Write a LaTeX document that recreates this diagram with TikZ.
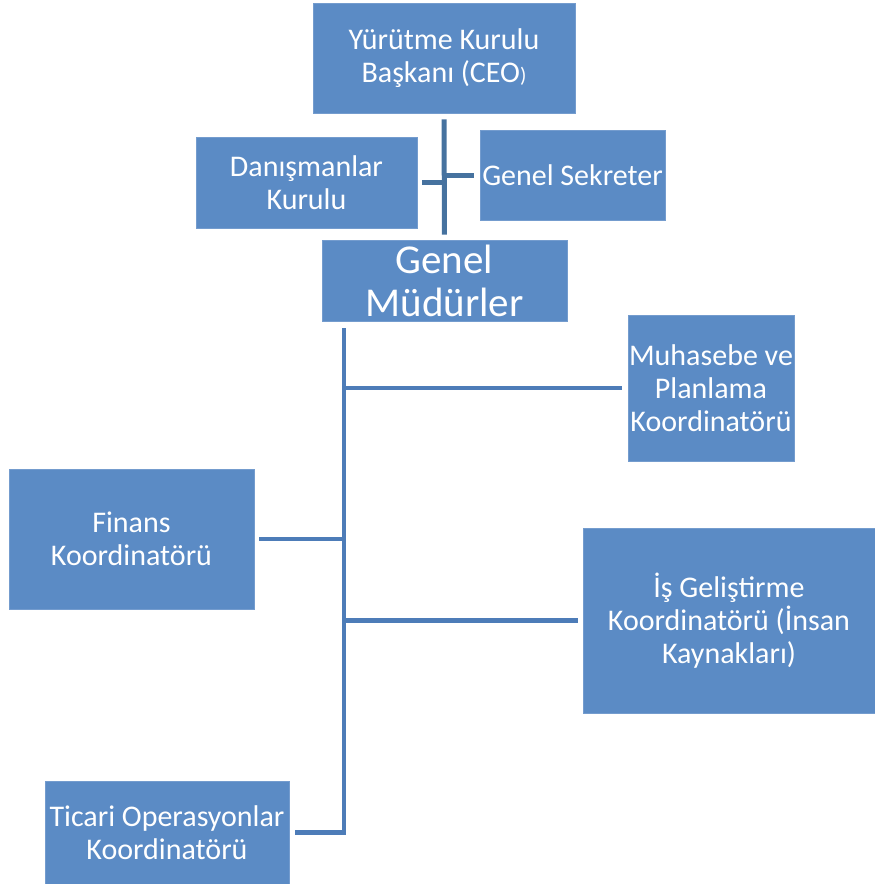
\documentclass[tikz,border=0pt]{standalone}
\usepackage{fontspec}
\setmainfont{Carlito}
\definecolor{boxblue}{HTML}{5B8BC5}
\definecolor{linkblue}{HTML}{4D7CB8}
\definecolor{toplink}{HTML}{46729F}
\begin{document}
\begin{tikzpicture}[x=1pt,y=-1pt,
  box/.style={rectangle, fill=boxblue, draw=boxblue!85!white, line width=0.6pt,
    text=white, align=center, inner sep=0pt,
    font=\fontsize{30pt}{33pt}\selectfont},
  bigbox/.style={box, font=\fontsize{41pt}{43pt}\selectfont},
  link/.style={draw=linkblue, line width=4.5pt},
  toplinkstyle/.style={draw=toplink, line width=5pt}]
\useasboundingbox (0,0) rectangle (875,884);

% upper block
\node[box, minimum width=262pt, minimum height=110pt] (ceo) at (444,58)
  {Yürütme Kurulu\\Başkanı (CEO{\fontsize{21pt}{22pt}\selectfont )}};
\node[box, minimum width=221pt, minimum height=91pt] (dan) at (306.5,182.5)
  {Danışmanlar\\Kurulu};
\node[box, minimum width=185pt, minimum height=90pt] (sec) at (572.5,175)
  {Genel Sekreter};
\node[bigbox, minimum width=245pt, minimum height=81pt] (gm) at (444.5,280.5)
  {Genel\\Müdürler};

% coordinators
\node[box, minimum width=166pt, minimum height=146pt] (mu) at (711,388)
  {Muhasebe ve\\Planlama\\Koordinatörü};
\node[box, minimum width=245pt, minimum height=140pt] (fin) at (131.5,539)
  {Finans\\Koordinatörü};
\node[box, minimum width=292pt, minimum height=185pt] (is) at (729,620.5)
  {İş Geliştirme\\Koordinatörü (İnsan\\Kaynakları)};
\node[box, minimum width=244pt, minimum height=103pt] (tic) at (167,832.5)
  {Ticari Operasyonlar\\Koordinatörü};

% upper connectors
\draw[toplinkstyle, shorten <=6pt, shorten >=5pt] (ceo.south) -- (gm.north);
\draw[toplinkstyle, shorten <=5pt] (dan.east) -- (dan.east -| ceo.south);
\draw[toplinkstyle, shorten <=6pt] (sec.west) -- (sec.west -| ceo.south);

% spine below the general managers
\coordinate (spine) at (344,328);
\draw[link, shorten >=6pt] (spine) |- (tic.east);
\draw[link, shorten <=6pt] (mu.west) -- (mu.west -| spine);
\draw[link, shorten <=5pt] (fin.east) -- (fin.east -| spine);
\draw[link, shorten <=5pt] (is.west) -- (is.west -| spine);
\end{tikzpicture}
\end{document}
